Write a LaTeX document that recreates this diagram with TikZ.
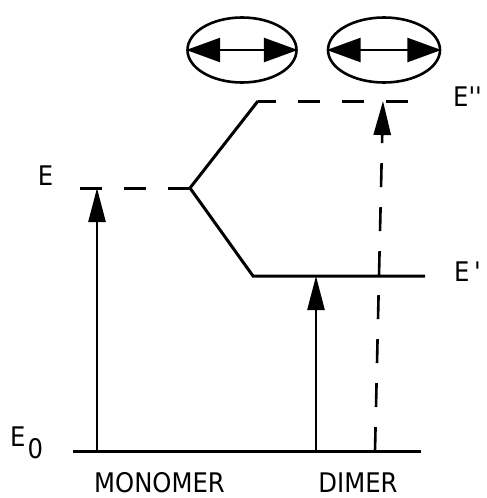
\documentclass[tikz,border=0pt]{standalone}
\usepackage{fontspec}
\setmainfont{DejaVu Sans}
\usetikzlibrary{arrows.meta,shapes.geometric}
\newcommand{\lab}[1]{\scalebox{0.9}[1]{#1}}
\begin{document}
\begin{tikzpicture}[x=1pt,y=-1pt,
  lvl/.style={line width=3pt},
  dlvl/.style={line width=3pt,dash pattern=on 22pt off 22pt},
  up/.style={line width=2.6pt,-{Triangle[length=34pt,width=17pt]}},
  lbl/.style={font=\fontsize{27}{27}\selectfont,inner sep=0pt},
  osc/.style={draw,line width=2.6pt,ellipse,minimum width=109pt,minimum height=65pt,inner sep=0pt},
  dbl/.style={line width=2.6pt,{Triangle[length=34pt,width=24pt]}-{Triangle[length=34pt,width=24pt]}}]
\useasboundingbox (0,0) rectangle (487,498);
% energy levels
\coordinate (g0) at (73,451);
\coordinate (g1) at (421,451);
\coordinate (mE) at (80,188);
\coordinate (split) at (190,188);
\coordinate (hiL) at (258,101);
\coordinate (hiR) at (429,101);
\coordinate (loL) at (253,276);
\coordinate (loR) at (425,276);
\draw[lvl] (g0) -- (g1);
\draw[dlvl] (mE) -- (split);
\draw[lvl] (hiL) -- (split) -- (loL) -- (loR);
\draw[dlvl,dash phase=4pt] (hiL) -- (hiR);
% transitions
\coordinate (a1) at (97,451);
\coordinate (a1t) at (97,188);
\coordinate (a2) at (316,451);
\coordinate (a2t) at (316,276);
\coordinate (a3) at (375,451);
\coordinate (a3t) at (383,101);
\draw[up] (a1) -- (a1t);
\draw[up] (a2) -- (a2t);
\draw[up,dash pattern=on 24pt off 20pt] (a3) -- (a3t);
% labels
\node[lbl] (lE) at (45.5,176) {\lab{E}};
\node[lbl,anchor=west] (lE0) at (10,442.5) {\lab{E}\hspace{2pt}\raisebox{-12pt}{\lab{0}}};
\node[lbl,anchor=west] (lEpp) at (453,96.5) {\lab{E\textquotesingle\textquotesingle}};
\node[lbl,anchor=west] (lEp) at (454,272) {\lab{E\hspace{5pt}\textquotesingle}};
\node[lbl] (mono) at (159.5,482.5) {\lab{MONOMER}};
\node[lbl] (dim) at (358,482.5) {\lab{DIMER}};
% transition dipoles
\node[osc] (o1) at (242,50) {};
\node[osc,minimum width=112pt] (o2) at (384,50) {};
\draw[dbl] (o1.west) -- (o1.east);
\draw[dbl] (o2.west) -- (o2.east);
\end{tikzpicture}
\end{document}
